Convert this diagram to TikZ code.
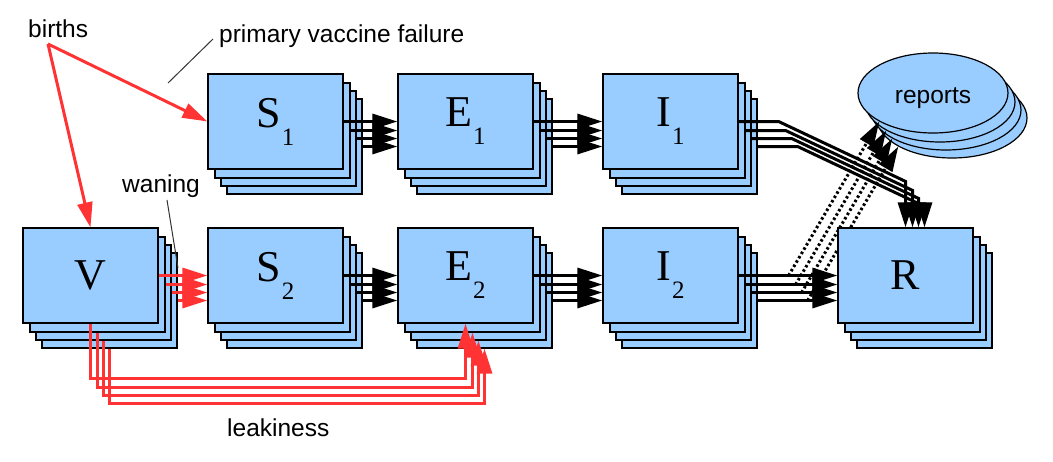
\documentclass[tikz,border=0pt]{standalone}
\usepackage{fontspec}
\setmainfont{Liberation Sans}
\newfontfamily\compfont{Liberation Serif}
\usepackage{tikz}
\usetikzlibrary{arrows.meta,calc,shapes.geometric,shadows}
\definecolor{CompBlue}{HTML}{99CCFF}
\definecolor{FlowRed}{HTML}{FF3333}
\newcommand{\compsub}[1]{\kern1pt\raisebox{-18pt}{\fontsize{25}{25}\selectfont #1}}

\begin{document}
\begin{tikzpicture}[
	x=1pt, y=-1pt,
	stack/.style={draw, line width=1.2pt, fill=CompBlue,
		general shadow={draw, line width=1.2pt, fill=CompBlue, shadow xshift=19pt, shadow yshift=-25pt},
		general shadow={draw, line width=1.2pt, fill=CompBlue, shadow xshift=13pt, shadow yshift=-17pt},
		general shadow={draw, line width=1.2pt, fill=CompBlue, shadow xshift=7pt, shadow yshift=-9pt}},
	comp/.style={stack, minimum width=135pt, minimum height=95pt, inner sep=0pt, font=\compfont\fontsize{44}{44}\selectfont},
	report/.style={stack, ellipse, minimum width=150pt, minimum height=80pt, inner sep=0pt, text height=20pt, text depth=0pt, font=\fontsize{24.5}{28}\selectfont},
	lbl/.style={anchor=base west, inner sep=0pt, font=\fontsize{24.5}{28}\selectfont},
	flow/.style={-{Triangle[length=25pt,width=15pt]}, line width=3pt},
	leak/.style={flow, draw=FlowRed},
	hint/.style={flow, line width=3pt, dash pattern=on 2.5pt off 2.5pt},
	note/.style={line width=1pt, draw=black!80}
]
\useasboundingbox (0,0) rectangle (1053,461);

% compartments
\node[comp] (V) at (90.5,275.5) {V};
\node[comp] (S1) at (275.5,121.5) {S\compsub{1}};
\node[comp] (S2) at (275.5,275.5) {S\compsub{2}};
\node[comp] (E1) at (465.5,121.5) {E\compsub{1}};
\node[comp] (E2) at (465.5,275.5) {E\compsub{2}};
\node[comp] (I1) at (670.5,121.5) {I\compsub{1}};
\node[comp] (I2) at (670.5,275.5) {I\compsub{2}};
\node[report] (reports) at (933,93) {reports};

% reporting
\foreach \dx/\dy in {0/0,7/9,13/17,19/25}
	\draw[hint] ($(I2.east)+(50+\dx,\dy)$) -- ($(reports.208)+(\dx,\dy)$);

\node[comp] (R) at (905.5,275.5) {R};

% labels
\node[lbl] (births) at (28,37) {births};
\node[lbl] (pvf) at (219,42) {primary vaccine failure};
\node[lbl] (waning) at (122,192) {waning};
\node[lbl] (leakiness) at (227,436) {leakiness};
\coordinate (fork) at (48,44);
\coordinate (pvfend) at (168,83);
\coordinate (waneend) at (178,268);

\draw[note] ($(pvf.base west)+(-6,-3)$) -- (pvfend);
\draw[note] ($(waning.base west)+(45,8)$) -- (waneend);

\draw[leak] (fork) -- (S1.west);
\draw[leak] (fork) -- (V.north);

% flows between stacks
\foreach \a/\b in {S1/E1,E1/I1,S2/E2,E2/I2,I2/R}
	\foreach \dx/\dy in {0/0,7/9,13/17,19/25}
		\draw[flow] ($(\a.east)+(\dx,\dy)$) -- ($(\b.west)+(0,\dy)$);

\foreach \dx/\dy in {0/0,7/9,13/17,19/25} {
	\draw[flow] ($(I1.east)+(\dx,\dy)$) -- ++(40,0) -- ($(R.north)+(\dx,\dy-46)$) -- ($(R.north)+(\dx,0)$);
	\draw[leak] ($(V.east)+(\dx,\dy)$) -- ($(S2.west)+(0,\dy)$);
	\draw[leak] ($(V.south)+(\dx,\dy)$) -- ++(0,55) -| ($(E2.south)+(\dx,\dy)$);
}
\end{tikzpicture}
\end{document}
